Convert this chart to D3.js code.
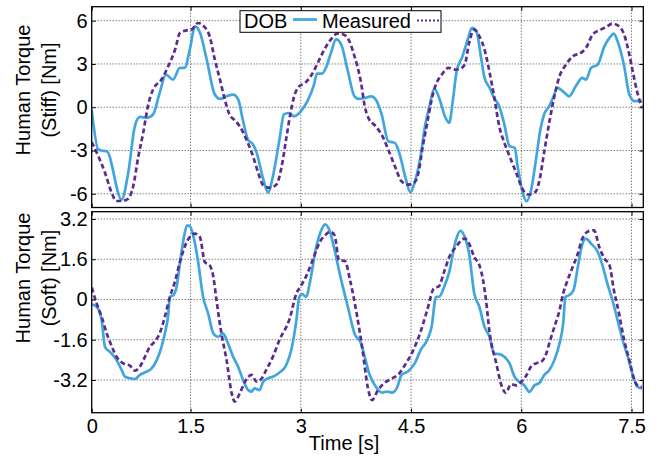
<!DOCTYPE html>
<html><head><meta charset="utf-8">
<script src="https://cdn.jsdelivr.net/npm/d3@7"></script>
<style>
html,body{margin:0;padding:0;background:#fff;}
svg{display:block;font-family:"Liberation Sans",Arial,Helvetica,sans-serif;}
</style></head><body>
<svg id="chart" width="670" height="458"></svg>
<script>
// ---------- data ----------
const xTickValues = [0, 1.5, 3, 4.5, 6, 7.5];
const xTickLabels = ["0", "1.5", "3", "4.5", "6", "7.5"];
const stiffTicks = [-6, -3, 0, 3, 6];
const stiffTickLabels = ["-6", "-3", "0", "3", "6"];
const softTicks = [-3.2, -1.6, 0, 1.6, 3.2];
const softTickLabels = ["-3.2", "-1.6", "0", "1.6", "3.2"];
const seriesNames = ["DOB", "Measured"];
const xTitle = "Time [s]";
const stiffTitle = ["Human Torque", "(Stiff) [Nm]"];
const softTitle = ["Human Torque", "(Soft) [Nm]"];

const stiffDobT = [0.155,0.245,0.29,0.36,0.562,0.652,0.743,0.81,0.90,0.99,1.08,1.165,1.26,1.355,1.42,1.49,1.56,1.63,1.72,1.83,1.90,1.99,2.08,2.15,2.21,2.28,2.35,2.40,2.49,2.555,2.62,2.71,2.77,2.83,2.91,3.0,3.09,3.18,3.22,3.29,3.35,3.41,3.48,3.55,3.64,3.73,3.79,3.87,3.96,4.02,4.10,4.19,4.28,4.34,4.43,4.49,4.54,4.63,4.69,4.75,4.82,4.89,4.96,5.02,5.07,5.12,5.20,5.27,5.33,5.39,5.45,5.50,5.57,5.63,5.70,5.77,5.84,5.91,5.95,6.02,6.07,6.13,6.20,6.26,6.31,6.38,6.44,6.49,6.59,6.65,6.74,6.83,6.88,6.95,7.04,7.13,7.20,7.26,7.31,7.40,7.47,7.54,7.64];
const stiffDobV = [-0.16,-2.93,-3.0,-3.05,-6.4,-4.54,-1.3,-0.67,-0.73,-0.5,1.0,2.26,1.92,2.73,2.73,4.0,5.6,5.15,3.3,0.88,0.58,0.76,0.88,0.53,-0.85,-2.24,-2.58,-3.16,-5.0,-5.9,-4.8,-2.24,-0.5,-0.4,-0.62,-0.28,0.42,1.57,2.33,2.33,2.84,3.77,4.7,4.35,2.5,0.76,0.58,0.65,0.76,0.53,-0.5,-2.36,-2.47,-3.17,-5.0,-5.9,-5.36,-3.4,-1.32,0.07,1.27,0.53,-0.62,-1.08,0.53,2.5,3.53,4.69,5.5,5.26,3.53,2.03,1.34,0.65,0.07,-1.2,-2.7,-2.81,-4.09,-5.93,-6.51,-5.82,-3.62,-1.54,-0.5,0.07,0.76,1.34,1.0,0.76,1.45,2.03,1.92,2.73,2.96,4.22,4.81,5.1,4.57,2.84,0.88,0.42,0.42];

const stiffMeasT = [0.155,0.245,0.336,0.427,0.49,0.56,0.65,0.72,0.79,0.856,0.92,0.99,1.105,1.196,1.29,1.355,1.446,1.513,1.60,1.69,1.76,1.83,1.90,1.966,2.03,2.10,2.17,2.26,2.35,2.42,2.49,2.58,2.67,2.74,2.80,2.86,2.91,2.97,3.06,3.15,3.23,3.32,3.41,3.50,3.58,3.66,3.73,3.82,3.87,3.92,4.02,4.11,4.19,4.28,4.37,4.46,4.54,4.60,4.66,4.72,4.78,4.83,4.92,5.01,5.10,5.16,5.23,5.29,5.36,5.43,5.50,5.57,5.63,5.70,5.77,5.84,5.93,6.02,6.09,6.19,6.25,6.31,6.38,6.45,6.52,6.61,6.70,6.81,6.88,6.97,7.08,7.17,7.24,7.33,7.40,7.47,7.52,7.58,7.64];
const stiffMeasV = [-2.42,-3.39,-4.54,-5.93,-6.5,-6.5,-6.35,-5.47,-3.39,-1.77,0.07,1.23,1.92,2.84,4.0,5.15,5.33,5.38,5.84,5.57,4.92,3.3,1.92,0.53,-0.5,-0.9,-1.32,-2.24,-3.39,-4.54,-5.42,-5.58,-5.35,-4.09,-2.24,-0.39,0.76,1.41,1.69,2.27,3.07,4.0,4.7,5.11,5.04,4.58,3.54,1.69,0.07,-0.74,-1.32,-2.0,-2.94,-4.09,-5.13,-5.36,-5.25,-4.55,-2.7,-1.09,0.53,1.46,2.27,2.73,2.61,2.65,2.96,4.46,5.38,4.92,4.0,2.38,0.76,-1.32,-2.47,-3.39,-4.54,-5.7,-6.05,-5.88,-5.0,-3.16,-1.08,0.76,2.15,2.96,3.53,3.77,4.11,5.03,5.38,5.61,5.8,5.61,5.03,3.65,2.38,1.0,0.03];

const softDobT = [0.155,0.223,0.29,0.336,0.404,0.494,0.562,0.607,0.675,0.743,0.811,0.90,0.97,1.04,1.105,1.15,1.196,1.219,1.264,1.31,1.355,1.41,1.454,1.49,1.536,1.60,1.67,1.74,1.81,1.875,1.94,2.01,2.08,2.147,2.215,2.283,2.328,2.37,2.44,2.487,2.555,2.62,2.71,2.79,2.88,2.94,2.98,3.02,3.07,3.13,3.20,3.27,3.33,3.39,3.46,3.55,3.64,3.73,3.82,3.87,3.93,4.02,4.11,4.17,4.24,4.31,4.37,4.46,4.55,4.63,4.72,4.78,4.84,4.88,4.95,5.02,5.11,5.17,5.23,5.29,5.36,5.43,5.50,5.57,5.63,5.70,5.77,5.84,5.91,5.97,6.04,6.11,6.18,6.25,6.31,6.38,6.45,6.52,6.57,6.60,6.65,6.71,6.77,6.82,6.88,6.95,7.04,7.11,7.17,7.24,7.31,7.38,7.45,7.51,7.58,7.64];
const softDobV = [-0.19,-0.29,-0.82,-1.88,-2.08,-2.41,-2.80,-3.07,-3.13,-3.16,-3.0,-2.87,-2.74,-2.41,-1.88,-1.35,-0.62,0.11,0.17,0.50,1.43,2.49,2.95,2.91,2.55,1.56,0.11,-0.56,-1.35,-1.48,-1.35,-1.75,-2.28,-2.67,-3.2,-3.6,-3.66,-3.53,-3.6,-3.27,-3.13,-3.07,-2.9,-2.67,-1.88,-0.82,0.11,0.21,0.11,0.77,1.96,2.69,2.99,2.75,1.96,0.77,-0.29,-1.35,-1.75,-2.28,-2.94,-3.47,-3.70,-3.66,-3.70,-3.5,-3.0,-2.85,-2.54,-2.01,-1.61,-1.08,0.11,0.11,0.50,1.10,2.36,2.73,2.49,1.83,0.24,-0.29,-1.09,-1.49,-2.15,-2.17,-2.28,-2.54,-3.08,-3.27,-3.41,-3.67,-3.41,-3.31,-3.01,-2.81,-2.41,-1.75,-0.95,0.10,0.17,0.37,1.30,2.09,2.42,2.22,1.89,1.30,0.64,-0.03,-0.82,-1.62,-2.28,-2.94,-3.47,-3.54];

const softMeasT = [0.155,0.223,0.29,0.36,0.43,0.494,0.584,0.675,0.743,0.811,0.879,0.946,1.01,1.08,1.15,1.22,1.286,1.355,1.42,1.49,1.558,1.626,1.694,1.76,1.81,1.853,1.92,1.99,2.06,2.10,2.17,2.24,2.33,2.40,2.47,2.53,2.62,2.71,2.85,2.94,3.0,3.08,3.17,3.26,3.33,3.40,3.46,3.52,3.60,3.67,3.76,3.84,3.91,3.97,4.05,4.14,4.25,4.34,4.43,4.52,4.63,4.72,4.81,4.88,4.95,5.02,5.11,5.23,5.29,5.36,5.43,5.48,5.52,5.57,5.66,5.73,5.79,5.86,5.93,6.0,6.07,6.13,6.20,6.27,6.34,6.38,6.45,6.52,6.57,6.63,6.70,6.77,6.83,6.93,6.99,7.06,7.13,7.20,7.26,7.33,7.40,7.47,7.54,7.61,7.64];
const softMeasV = [0.48,-0.16,-0.69,-1.35,-1.88,-2.28,-2.54,-2.63,-2.83,-2.67,-2.28,-1.88,-1.68,-1.35,-0.69,0.11,0.70,1.49,2.09,2.49,2.62,2.49,1.49,1.36,0.90,-0.03,-1.35,-2.41,-3.73,-4.06,-3.73,-3.27,-3.0,-3.27,-3.13,-2.80,-2.28,-1.61,-0.75,0.24,0.53,0.97,1.63,2.29,2.55,2.69,2.55,1.56,1.53,0.77,-0.56,-2.01,-3.47,-4.0,-3.6,-3.31,-3.13,-2.94,-2.54,-2.08,-1.28,-0.42,0.44,0.53,1.10,1.69,2.09,2.42,2.22,1.69,1.36,0.77,-0.03,-1.35,-2.54,-3.41,-3.71,-3.37,-3.41,-3.27,-3.01,-2.68,-2.54,-2.48,-2.15,-1.75,-1.09,-0.43,0.24,0.77,1.30,1.83,2.42,2.73,2.75,2.09,1.63,1.36,0.37,-0.56,-1.62,-2.41,-3.21,-3.47,-3.47];

// ---------- layout ----------
const colors = {dob: "#41a6dd", meas: "#5b2c8f"};
const svg = d3.select("#chart");
const left = 91.7, right = 643.3;
const panels = [
  {top: 6.7, bottom: 207.5, domain: [-6.95, 6.97], ticks: stiffTicks, labels: stiffTickLabels,
   title: stiffTitle, titleY: 90, dob: [stiffDobT, stiffDobV], meas: [stiffMeasT, stiffMeasV], showX: false},
  {top: 211.7, bottom: 412.7, domain: [-4.5, 3.49], ticks: softTicks, labels: softTickLabels,
   title: softTitle, titleY: 278, dob: [softDobT, softDobV], meas: [softMeasT, softMeasV], showX: true}
];

const x = d3.scaleLinear().domain([0.155, 7.66]).range([left, right]).clamp(true);
const fontSize = 20;

panels.forEach((p, i) => {
  const y = d3.scaleLinear().domain(p.domain).range([p.bottom, p.top]);
  const h = p.bottom - p.top, w = right - left;
  const g = svg.append("g");

  g.append("rect").attr("x", left).attr("y", p.top).attr("width", w).attr("height", h).attr("fill", "#fff");

  // grid
  const grid = g.append("g").attr("class", "grid");
  grid.selectAll("line.gx").data(xTickValues.filter(v => v > 0)).enter().append("line")
    .attr("x1", d => x(d)).attr("x2", d => x(d)).attr("y1", p.top).attr("y2", p.bottom);
  grid.selectAll("line.gy").data(p.ticks).enter().append("line")
    .attr("x1", left).attr("x2", right).attr("y1", d => y(d)).attr("y2", d => y(d));
  grid.selectAll("line").attr("stroke", "#444").attr("stroke-width", 1).attr("stroke-dasharray", "1,2");

  // lines
  const clipId = "clip" + i;
  svg.append("clipPath").attr("id", clipId).append("rect")
    .attr("x", left).attr("y", p.top).attr("width", w).attr("height", h);
  const line = d3.line().x(d => x(d[0])).y(d => y(d[1])).curve(d3.curveMonotoneX);
  const dobPts = p.dob[0].map((t, k) => [t, p.dob[1][k]]);
  const measPts = p.meas[0].map((t, k) => [t, p.meas[1][k]]);
  const lg = g.append("g").attr("clip-path", `url(#${clipId})`);
  lg.append("path").datum(dobPts).attr("d", line).attr("fill", "none")
    .attr("stroke", colors.dob).attr("stroke-width", 2.7).attr("stroke-linejoin", "round");
  lg.append("path").datum(measPts).attr("d", line).attr("fill", "none")
    .attr("stroke", colors.meas).attr("stroke-width", 2.7).attr("stroke-dasharray", "5,3");

  // axes (ticks inward)
  const ax = g.append("g").attr("transform", `translate(${left},0)`)
    .call(d3.axisLeft(y).tickValues(p.ticks).tickSize(-4).tickPadding(4)
      .tickFormat((d, k) => p.labels[k]));
  g.append("g").attr("transform", `translate(${right},0)`)
    .call(d3.axisRight(y).tickValues(p.ticks).tickSize(-4).tickFormat(""));
  const bx = g.append("g").attr("transform", `translate(0,${p.bottom})`)
    .call(d3.axisBottom(x).tickValues(xTickValues).tickSize(-4).tickPadding(6)
      .tickFormat((d, k) => p.showX ? xTickLabels[k] : ""));
  g.append("g").attr("transform", `translate(0,${p.top})`)
    .call(d3.axisTop(x).tickValues(xTickValues).tickSize(-4).tickFormat(""));
  g.selectAll(".domain").remove();
  g.selectAll(".tick line").attr("stroke", "#000").attr("stroke-width", 1);
  g.selectAll(".tick text").attr("font-size", fontSize).attr("fill", "#000")
    .attr("font-family", '"Liberation Sans",Arial,sans-serif');

  // frame
  g.append("rect").attr("x", left).attr("y", p.top).attr("width", w).attr("height", h)
    .attr("fill", "none").attr("stroke", "#000").attr("stroke-width", 1.3);

  // y title
  const tt = g.append("text").attr("transform", `translate(30,${p.titleY}) rotate(-90)`)
    .attr("text-anchor", "middle").attr("font-size", fontSize).attr("fill", "#000");
  tt.append("tspan").attr("x", 0).attr("y", 0).text(p.title[0]);
  tt.append("tspan").attr("x", 0).attr("y", 26).text(p.title[1]);
});

// x title
svg.append("text").attr("x", 344).attr("y", 450).attr("text-anchor", "middle")
  .attr("font-size", fontSize).attr("fill", "#000").text(xTitle);

// legend
const leg = svg.append("g");
leg.append("rect").attr("x", 240).attr("y", 10.7).attr("width", 201).attr("height", 21.6)
  .attr("fill", "#fff").attr("stroke", "#000").attr("stroke-width", 1);
leg.append("text").attr("x", 244).attr("y", 28.3).attr("font-size", fontSize).text(seriesNames[0]);
leg.append("line").attr("x1", 293).attr("x2", 317).attr("y1", 19.5).attr("y2", 19.5)
  .attr("stroke", colors.dob).attr("stroke-width", 2.7);
leg.append("text").attr("x", 322).attr("y", 28.3).attr("font-size", fontSize).text(seriesNames[1]);
leg.append("line").attr("x1", 417).attr("x2", 440).attr("y1", 20.5).attr("y2", 20.5)
  .attr("stroke", colors.meas).attr("stroke-width", 2.2).attr("stroke-dasharray", "2,2");
</script>
</body></html>
